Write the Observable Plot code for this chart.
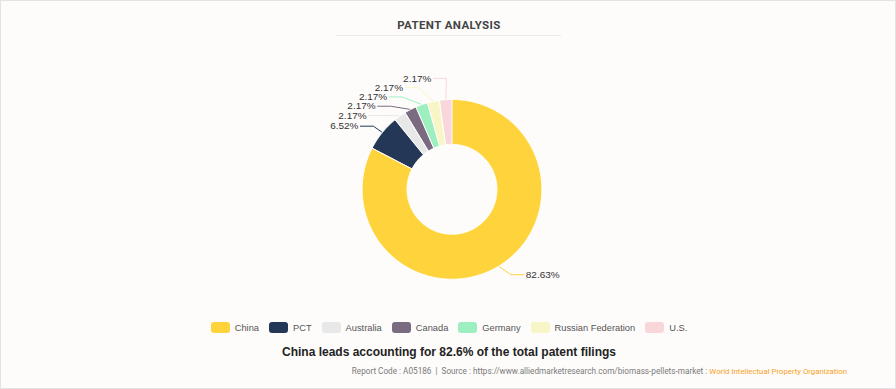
<!DOCTYPE html>
<html>
<head>
<meta charset="utf-8">
<script src="https://cdn.jsdelivr.net/npm/d3@7"></script>
<script src="https://cdn.jsdelivr.net/npm/@observablehq/plot@0.6"></script>
<style>
  html, body { margin: 0; padding: 0; background: #fff; }
  #card { position: relative; width: 896px; height: 389px; box-sizing: border-box; border: 1px solid #e3e3e3; background: #fdfcfb; font-family: "Liberation Sans", Arial, sans-serif; overflow: hidden; }
  #title { position: absolute; top: 17px; left: 0; width: 896px; text-align: center; font-family: Roboto, "Liberation Sans", sans-serif; font-weight: 700; font-size: 11.5px; letter-spacing: 0.4px; color: #444; }
  #rule { position: absolute; top: 34px; left: 335px; width: 225px; height: 1px; background: #ececec; }
  #chart { position: absolute; top: 44px; left: -1px; }
  #legend { position: absolute; top: 321px; left: 0; width: 896px; display: flex; justify-content: center; align-items: center; font-size: 9.3px; color: #555; }
  .item { display: flex; align-items: center; margin: 0 5px; }
  .sw { width: 19px; height: 11px; border-radius: 3px; margin-right: 5px; }
  #subtitle { position: absolute; top: 344px; left: 0; width: 896px; text-align: center; font-weight: 700; font-size: 12px; color: #222; }
  #footer { position: absolute; top: 365px; right: 48px; font-family: Roboto, "Liberation Sans", sans-serif; font-size: 8.2px; color: #7a7a7a; white-space: nowrap; }
  #footer .org { color: #f7a21b; font-size: 7.8px; }
</style>
</head>
<body>
<div id="card">
  <div id="title">PATENT ANALYSIS</div>
  <div id="rule"></div>
  <div id="chart"></div>
  <div id="legend"></div>
  <div id="subtitle">China leads accounting for 82.6% of the total patent filings</div>
  <div id="footer">Report Code : A05186 &nbsp;|&nbsp; Source : https://www.alliedmarketresearch.com/biomass-pellets-market : <span class="org">World Intellectual Property Organization</span></div>
</div>
<script>
// ---- data ----
const categories = ["China", "PCT", "Australia", "Canada", "Germany", "Russian Federation", "U.S."];
const shares = [82.63, 6.52, 2.17, 2.17, 2.17, 2.17, 2.17];
const shareLabels = ["82.63%", "6.52%", "2.17%", "2.17%", "2.17%", "2.17%", "2.17%"];
const colors = ["#ffd33c", "#243757", "#e8e8e8", "#7b6b80", "#9eefc0", "#f8f6c6", "#f8d6da"];

// ---- layout constants (px) ----
const R = 90, R0 = 45, RL = 100, RT = 113, GAP = 9.3;

const arcs = d3.pie().sort(null).value(d => d)(shares);

// slice polygons
const slicePts = [];
arcs.forEach((a, i) => {
  const n = Math.max(2, Math.ceil((a.endAngle - a.startAngle) / 0.01) + 1);
  for (let k = 0; k < n; k++) {
    const t = a.startAngle + (a.endAngle - a.startAngle) * k / (n - 1);
    slicePts.push({name: categories[i], x: R * Math.sin(t), y: -R * Math.cos(t)});
  }
  for (let k = n - 1; k >= 0; k--) {
    const t = a.startAngle + (a.endAngle - a.startAngle) * k / (n - 1);
    slicePts.push({name: categories[i], x: R0 * Math.sin(t), y: -R0 * Math.cos(t)});
  }
});

// labels with overlap resolution
const labs = arcs.map((a, i) => {
  const m = (a.startAngle + a.endAngle) / 2;
  return {name: categories[i], text: shareLabels[i], m, side: Math.sin(m) < 0 ? -1 : 1, ny: -RL * Math.cos(m)};
});
for (const side of [-1, 1]) {
  const items = labs.filter(d => d.side === side).sort((a, b) => a.ny - b.ny);
  let clusters = items.map(d => ({items: [d], mean: d.ny}));
  let merged = true;
  while (merged) {
    merged = false;
    for (let j = 0; j < clusters.length - 1; j++) {
      const A = clusters[j], B = clusters[j + 1];
      const aBottom = A.mean + (A.items.length - 1) / 2 * GAP;
      const bTop = B.mean - (B.items.length - 1) / 2 * GAP;
      if (bTop - aBottom < GAP) {
        const all = A.items.concat(B.items);
        clusters.splice(j, 2, {items: all, mean: d3.mean(all, d => d.ny)});
        merged = true;
        break;
      }
    }
  }
  for (const c of clusters) {
    c.items.forEach((d, j) => { d.y = c.mean + (j - (c.items.length - 1) / 2) * GAP; });
  }
}
const leaderPts = [];
labs.forEach(d => {
  d.x = d.side * Math.sqrt(Math.max(RT * RT - d.y * d.y, 0));
  leaderPts.push({name: d.name, x: R * Math.sin(d.m), y: -R * Math.cos(d.m)});
  leaderPts.push({name: d.name, x: d.x - d.side * 15, y: d.y});
  leaderPts.push({name: d.name, x: d.x - d.side * 2, y: d.y});
});

const chart = Plot.plot({
  width: 896,
  height: 270,
  margin: 0,
  style: {background: "transparent", fontFamily: "'Liberation Sans', Arial, sans-serif"},
  x: {domain: [-452, 444], axis: null},
  y: {domain: [-144, 126], reverse: true, axis: null},
  color: {domain: categories, range: colors},
  marks: [
    Plot.line(leaderPts, {x: "x", y: "y", z: "name", stroke: "name", strokeWidth: 1}),
    Plot.line(slicePts, {x: "x", y: "y", z: "name", fill: "name", stroke: "#ffffff", strokeWidth: 1, curve: "linear-closed"}),
    Plot.text(labs.filter(d => d.side < 0), {x: "x", y: "y", text: "text", textAnchor: "end", fill: "#333", fontSize: 10}),
    Plot.text(labs.filter(d => d.side > 0), {x: "x", y: "y", text: "text", textAnchor: "start", fill: "#333", fontSize: 10})
  ]
});
document.getElementById("chart").appendChild(chart);

// legend
const legend = d3.select("#legend");
categories.forEach((c, i) => {
  const it = legend.append("div").attr("class", "item");
  it.append("div").attr("class", "sw").style("background", colors[i]);
  it.append("span").text(c);
});
</script>
</body>
</html>
